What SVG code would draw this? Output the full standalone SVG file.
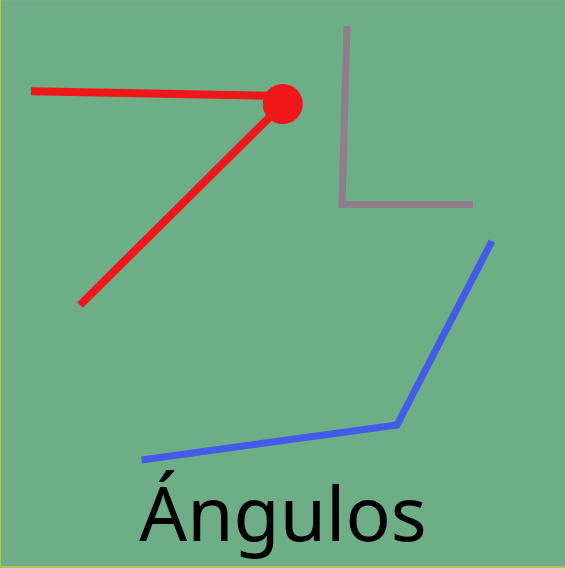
<svg xmlns="http://www.w3.org/2000/svg" width="565" height="568" viewBox="0 0 565 568">
<style>
.ln{fill:none;stroke-linecap:butt;stroke-linejoin:miter}
.red{stroke:#EF171A;stroke-width:8}
.gray{stroke:#8F7D8B;stroke-width:7}
.blue{stroke:#435BE7;stroke-width:7}
.lbl{font-family:"Noto Sans","Open Sans",sans-serif;font-size:75px;fill:#000}
</style>
<rect x="0" y="0" width="565" height="568" fill="#A9C75C"/>
<rect x="1" y="0" width="564" height="566" fill="#6EAE86"/>
<rect x="1" y="0" width="564" height="1" fill="#7EA99C"/>
<g id="red-angle">
<path class="ln red" d="M31,91.3 L283,96 M80,305 L283,104"/>
<circle cx="282.7" cy="104" r="20" fill="#EF171A"/>
</g>
<g id="gray-angle">
<polyline class="ln gray" points="347,26 342,204.5 473,204.5"/>
</g>
<g id="blue-angle">
<polyline class="ln blue" points="141.5,460 397,425 492,241"/>
</g>
<g id="label">
<text class="lbl" x="283" y="541" text-anchor="middle">Ángulos</text>
</g>
</svg>
